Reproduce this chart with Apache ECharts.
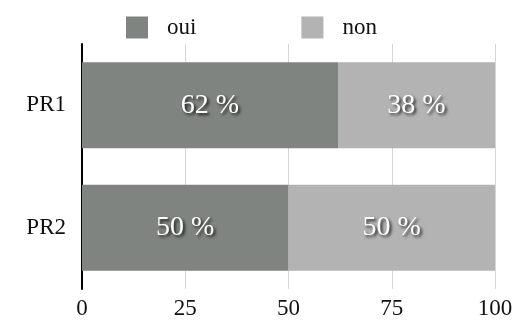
<!DOCTYPE html>
<html>
<head>
<meta charset="utf-8">
<script src="https://cdn.jsdelivr.net/npm/echarts@6/dist/echarts.min.js"></script>
<style>
  html, body { margin: 0; padding: 0; background: #fff; }
  #chart { width: 516px; height: 320px; }
</style>
</head>
<body>
<div id="chart"></div>
<script>
const categories = ['PR1', 'PR2'];
const ouiValues = [62, 50];
const nonValues = [38, 50];
const xTicks = [0, 25, 50, 75, 100];

const FONT = '"Liberation Serif", "DejaVu Serif", serif';

const valueLabel = {
  show: true,
  position: 'inside',
  formatter: p => p.value + ' %',
  color: '#ffffff',
  fontFamily: FONT,
  fontSize: 28,
  textShadowColor: 'rgba(0,0,0,0.8)',
  textShadowBlur: 3,
  textShadowOffsetX: 2,
  textShadowOffsetY: 2
};

const chart = echarts.init(document.getElementById('chart'), null, { renderer: 'canvas' });
chart.setOption({
  animation: false,
  backgroundColor: '#ffffff',
  legend: {
    left: 121,
    top: 11,
    itemWidth: 22,
    itemHeight: 22,
    itemGap: 105,
    icon: 'rect',
    textStyle: { fontFamily: FONT, fontSize: 23, color: '#111', padding: [0, 0, 0, 14] },
    data: ['oui', 'non']
  },
  grid: { left: 82, right: 21, top: 44, bottom: 30, containLabel: false },
  xAxis: {
    type: 'value',
    min: 0,
    max: 100,
    interval: 25,
    axisLine: { show: false },
    axisTick: { show: false },
    splitLine: { show: true, lineStyle: { color: '#d6d6d6', width: 1 } },
    axisLabel: {
      margin: 8,
      fontFamily: FONT,
      fontSize: 23,
      color: '#111',
      formatter: v => xTicks.includes(v) ? String(v) : ''
    }
  },
  yAxis: {
    type: 'category',
    inverse: true,
    data: categories,
    axisLine: { show: true, lineStyle: { color: '#000', width: 2 } },
    axisTick: { show: false },
    axisLabel: { margin: 16, fontFamily: FONT, fontSize: 23, color: '#111' }
  },
  series: [
    {
      name: 'oui',
      type: 'bar',
      stack: 'total',
      barWidth: 86,
      data: ouiValues,
      itemStyle: { color: '#7f8480' },
      label: valueLabel
    },
    {
      name: 'non',
      type: 'bar',
      stack: 'total',
      barWidth: 86,
      data: nonValues,
      itemStyle: { color: '#b3b3b3' },
      label: valueLabel
    }
  ]
});
</script>
</body>
</html>
